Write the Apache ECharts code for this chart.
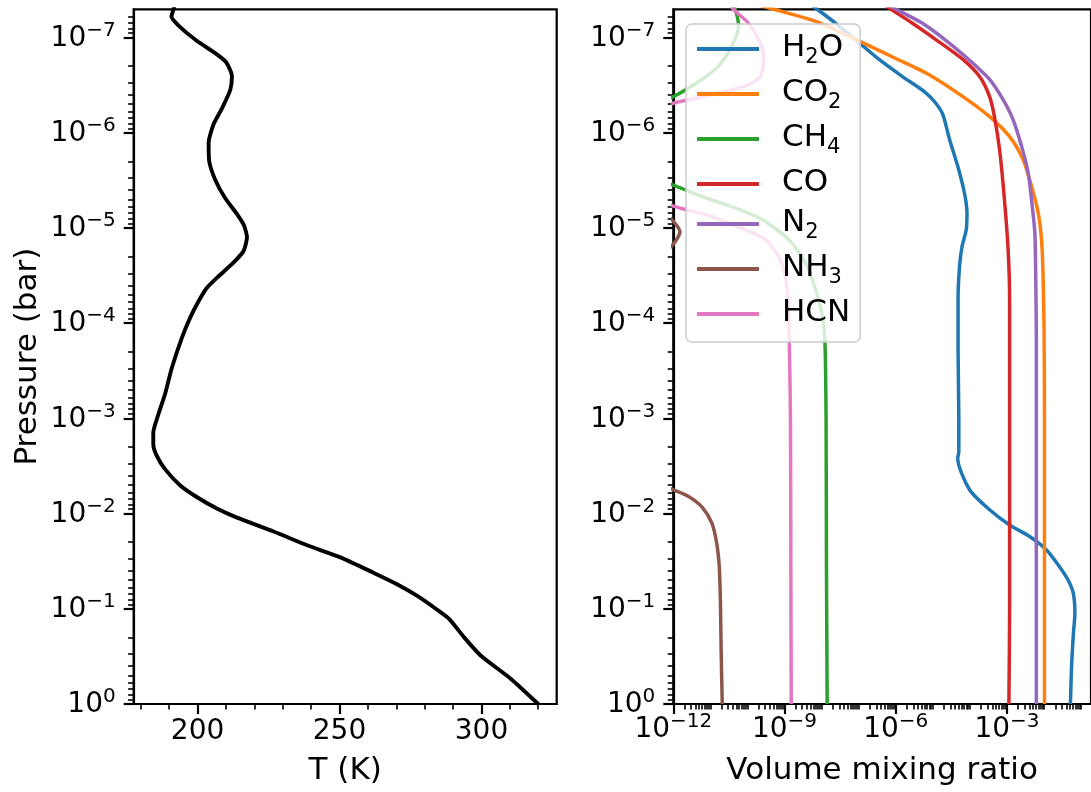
<!DOCTYPE html>
<html><head><meta charset="utf-8">
<script src="https://cdn.jsdelivr.net/npm/echarts@6/dist/echarts.min.js"></script>
<style>html,body{margin:0;padding:0;background:#fff}#c{width:1091px;height:792px}</style>
</head><body><div id="c"></div>
<script>
// ---------- data (log10 values) ----------
const tpTemperature = [192.0, 191.4, 190.8, 193.3, 199.7, 206.2, 210.1, 212.1, 211.5, 208.6, 205.6, 203.9, 204.1, 206.2, 209.7, 213.9, 216.4, 217.4, 216.2, 212.7, 207.4, 203.3, 200.3, 197.4, 194.4, 190.9, 188.6, 186.2, 184.4, 184.4, 185.6, 188.6, 193.9, 199.7, 206.8, 213.9, 226.8, 238.6, 250.3, 262.1, 270.4, 277.4, 284.4, 288.6, 293.9, 299.8, 310.3, 320.0];
const tpLogPressure = [-7.35, -7.285, -7.22, -7.126, -6.966, -6.836, -6.74, -6.594, -6.449, -6.256, -6.087, -5.894, -5.7, -5.507, -5.314, -5.145, -5.024, -4.903, -4.758, -4.638, -4.493, -4.372, -4.227, -4.058, -3.841, -3.527, -3.261, -3.043, -2.85, -2.729, -2.609, -2.464, -2.295, -2.174, -2.053, -1.957, -1.812, -1.667, -1.54, -1.377, -1.256, -1.135, -0.99, -0.894, -0.7, -0.507, -0.266, 0];

const speciesNames = ['H2O', 'CO2', 'CH4', 'CO', 'N2', 'NH3', 'HCN'];
const speciesColors = ['#1f77b4', '#ff7f0e', '#2ca02c', '#d62728', '#9467bd', '#8c564b', '#e377c2'];
// each entry: [log10 VMR, log10 pressure]
const h2o = [[-8.47,-7.4],[-8.12,-7.297],[-7.62,-7.15],[-7.08,-6.976],[-6.45,-6.77],[-5.82,-6.59],[-5.19,-6.42],[-4.92,-6.31],[-4.73,-6.19],[-4.55,-5.93],[-4.33,-5.65],[-4.15,-5.37],[-4.08,-5.16],[-4.10,-4.98],[-4.21,-4.81],[-4.28,-4.60],[-4.32,-4.25],[-4.32,-3.72],[-4.30,-3.0],[-4.30,-2.65],[-4.33,-2.58],[-4.01,-2.25],[-3.47,-2.04],[-2.93,-1.88],[-2.39,-1.76],[-1.94,-1.62],[-1.58,-1.44],[-1.35,-1.30],[-1.21,-1.16],[-1.17,-0.95],[-1.21,-0.74],[-1.26,-0.39],[-1.29,0]];
const co2 = [[-10.2,-7.4],[-9.29,-7.297],[-8.16,-7.17],[-7.08,-6.98],[-6.0,-6.78],[-5.10,-6.61],[-4.19,-6.38],[-3.47,-6.17],[-2.93,-5.96],[-2.57,-5.72],[-2.34,-5.44],[-2.16,-5.16],[-2.07,-4.88],[-2.03,-4.53],[-2.00,-3.90],[-1.99,-3.0],[-1.99,-1.5],[-1.99,0]];
const ch4 = [[-10.45,-7.4],[-10.33,-7.297],[-10.24,-7.13],[-10.42,-6.91],[-10.78,-6.70],[-11.23,-6.56],[-12.0,-6.38],[-12.8,-6.25],[-13.3,-5.9],[-12.8,-5.55],[-12.0,-5.45],[-11.23,-5.33],[-10.33,-5.21],[-9.61,-5.09],[-8.89,-4.88],[-8.43,-4.63],[-8.16,-4.35],[-7.98,-4.07],[-7.91,-3.79],[-7.88,-3.0],[-7.87,-1.5],[-7.85,0]];
const co = [[-6.53,-7.4],[-6.13,-7.297],[-5.55,-7.15],[-4.91,-6.976],[-4.19,-6.77],[-3.74,-6.59],[-3.47,-6.38],[-3.34,-6.17],[-3.20,-5.82],[-3.07,-5.30],[-2.97,-4.77],[-2.93,-4.25],[-2.93,-3.0],[-2.93,-1.0],[-2.95,0]];
const n2 = [[-6.48,-7.4],[-5.99,-7.297],[-5.28,-7.15],[-4.55,-6.94],[-3.92,-6.73],[-3.47,-6.56],[-3.11,-6.35],[-2.84,-6.14],[-2.61,-5.86],[-2.43,-5.58],[-2.34,-5.30],[-2.25,-4.95],[-2.23,-4.60],[-2.21,-3.90],[-2.21,-1.0],[-2.21,0]];
const nh3 = [[-15,-7.4],[-14,-6.0],[-12.6,-5.3],[-12.0,-5.07],[-11.82,-4.96],[-12.0,-4.83],[-12.6,-4.6],[-14,-3.8],[-14,-2.8],[-12.6,-2.35],[-12.0,-2.25],[-11.59,-2.18],[-11.23,-2.07],[-10.96,-1.90],[-10.83,-1.69],[-10.76,-1.44],[-10.73,-1.09],[-10.71,-0.57],[-10.68,0]];
const hcn = [[-10.55,-7.4],[-10.38,-7.297],[-9.97,-7.15],[-9.65,-6.94],[-9.56,-6.78],[-9.65,-6.59],[-10.06,-6.49],[-10.78,-6.42],[-11.41,-6.36],[-12.0,-6.31],[-12.8,-6.2],[-13.2,-5.8],[-12.8,-5.35],[-12.0,-5.23],[-10.96,-5.12],[-10.06,-4.98],[-9.52,-4.88],[-9.16,-4.70],[-8.98,-4.49],[-8.90,-4.18],[-8.87,-3.76],[-8.84,-3.0],[-8.83,-1.5],[-8.82,0]];
const speciesData = [h2o, co2, ch4, co, n2, nh3, hcn];

// ticks
const tempTicks = [200, 250, 300];
const tempMinorTicks = [180, 190, 210, 220, 230, 240, 260, 270, 280, 290, 310, 320];
const pressureTicks = [1e-7, 1e-6, 1e-5, 1e-4, 1e-3, 1e-2, 1e-1, 1];
const pressureTickExp = ['−7', '−6', '−5', '−4', '−3', '−2', '−1', '0'];
const vmrTicks = [1e-12, 1e-9, 1e-6, 1e-3];
const vmrTickExp = ['−12', '−9', '−6', '−3'];

function logMinor(lo, hi, skip) {
  const out = [];
  for (let n = lo; n <= hi; n++) for (let k = 1; k <= 9; k++) {
    const v = k * Math.pow(10, n);
    if (k === 1 && skip(n)) continue;
    out.push(v);
  }
  return out;
}
const pressureMinor = logMinor(-8, -1, () => true).filter(v => v > 5.1e-8);
const vmrMinor = logMinor(-12, -1, n => n % 3 === 0);

// ---------- chart ----------
const FONT = 'DejaVu Sans';
const TICK = 28, LABEL = 31;
const chart = echarts.init(document.getElementById('c'), null, {renderer: 'canvas'});
const supRich = {
  b: {fontFamily: FONT, fontSize: TICK, color: '#000', verticalAlign: 'bottom', lineHeight: 30},
  s: {fontFamily: FONT, fontSize: 20, color: '#000', verticalAlign: 'bottom', lineHeight: 20, padding: [0, 0, 12, 0]}
};
function expFmt(ticks, exps) {
  return v => {
    const i = ticks.findIndex(t => Math.abs(Math.log10(t) - Math.log10(v)) < 1e-6);
    return i < 0 ? '' : '{b|10}{s|' + exps[i] + '}';
  };
}
const majorTick = (vals) => ({show: true, customValues: vals, length: 10, lineStyle: {color: '#000', width: 2.2}});
const minorTick = (vals) => ({show: true, customValues: vals, length: 5.6, lineStyle: {color: '#000', width: 1.6}});
const axLine = {show: true, lineStyle: {color: '#000', width: 2.2}};

const grids = [
  {left: 133.7, top: 9.3, width: 423, height: 694.7, show: true, borderColor: '#000', borderWidth: 2.2, backgroundColor: 'transparent'},
  {left: 673.3, top: 9.3, width: 423, height: 694.7, show: true, borderColor: '#000', borderWidth: 2.2, backgroundColor: 'transparent'}
];

const yBase = (gi) => ({
  type: 'log', gridIndex: gi, min: 5.05e-8, max: 1.0001, inverse: true, position: 'left',
  splitLine: {show: false}, minorTick: {show: false}, minorSplitLine: {show: false}
});

const option = {
  animation: false,
  backgroundColor: '#fff',
  grid: grids,
  xAxis: [
    {type: 'value', gridIndex: 0, min: 177.5, max: 326.5, position: 'bottom',
     axisLine: axLine, axisTick: majorTick(tempTicks), splitLine: {show: false},
     axisLabel: {customValues: tempTicks, fontFamily: FONT, fontSize: TICK, color: '#000', margin: 14},
     name: 'T (K)', nameLocation: 'middle', nameGap: 51,
     nameTextStyle: {fontFamily: FONT, fontSize: LABEL, color: '#000'}},
    {type: 'value', gridIndex: 0, min: 177.5, max: 326.5, position: 'bottom',
     axisLine: {show: false}, axisTick: minorTick(tempMinorTicks), axisLabel: {show: false}, splitLine: {show: false}},
    {type: 'log', gridIndex: 1, min: 9.999e-13, max: 0.184, position: 'bottom',
     axisLine: axLine, axisTick: majorTick(vmrTicks), splitLine: {show: false}, minorTick: {show: false},
     axisLabel: {customValues: vmrTicks, formatter: expFmt(vmrTicks, vmrTickExp), rich: supRich, margin: 10},
     name: 'Volume mixing ratio', nameLocation: 'middle', nameGap: 51,
     nameTextStyle: {fontFamily: FONT, fontSize: LABEL, color: '#000'}},
    {type: 'log', gridIndex: 1, min: 9.999e-13, max: 0.184, position: 'bottom',
     axisLine: {show: false}, axisTick: minorTick(vmrMinor), axisLabel: {show: false}, splitLine: {show: false}, minorTick: {show: false}}
  ],
  yAxis: [
    Object.assign(yBase(0), {axisLine: axLine, axisTick: majorTick(pressureTicks),
      axisLabel: {customValues: pressureTicks, formatter: expFmt(pressureTicks, pressureTickExp), rich: supRich, margin: 18},
      name: 'Pressure (bar)', nameLocation: 'middle', nameGap: 90, nameRotate: 90,
      nameTextStyle: {fontFamily: FONT, fontSize: LABEL, color: '#000'}}),
    Object.assign(yBase(0), {axisLine: {show: false}, axisTick: minorTick(pressureMinor), axisLabel: {show: false}}),
    Object.assign(yBase(1), {axisLine: axLine, axisTick: majorTick(pressureTicks),
      axisLabel: {customValues: pressureTicks, formatter: expFmt(pressureTicks, pressureTickExp), rich: supRich, margin: 18}}),
    Object.assign(yBase(1), {axisLine: {show: false}, axisTick: minorTick(pressureMinor), axisLabel: {show: false}})
  ],
  legend: {
    data: speciesNames, orient: 'vertical', left: 686, top: 24,
    padding: [8, 10, 14, 11], itemWidth: 62, itemHeight: 4, itemGap: 9, icon: 'rect',
    backgroundColor: 'rgba(255,255,255,0.8)', borderColor: '#cccccc', borderWidth: 1.5, borderRadius: 6,
    formatter: n => n.split(/(\d+)/).filter(s => s).map(s => /\d/.test(s) ? '{s|' + s + '}' : '{b|' + s + '}').join(''),
    textStyle: {padding: [0, 0, 0, 18], rich: {
      b: {fontFamily: FONT, fontSize: LABEL, color: '#000', verticalAlign: 'top', lineHeight: 34},
      s: {fontFamily: FONT, fontSize: 21, color: '#000', verticalAlign: 'top', lineHeight: 21, padding: [15, 0, 0, 0]}
    }}
  },
  series: [
    {type: 'line', xAxisIndex: 0, yAxisIndex: 0, symbol: 'none', smooth: 0.2, clip: true,
     data: tpTemperature.map((t, i) => [t, Math.pow(10, tpLogPressure[i])]),
     lineStyle: {color: '#000', width: 3.9}, itemStyle: {color: '#000'}, z: 3}
  ].concat(speciesNames.map((name, i) => ({
    name, type: 'line', xAxisIndex: 2, yAxisIndex: 2, symbol: 'none', smooth: 0.25, clip: true,
    color: speciesColors[i],
    data: speciesData[i].map(p => [Math.pow(10, p[0]), Math.pow(10, p[1])]),
    lineStyle: {color: speciesColors[i], width: 3.5}, itemStyle: {color: speciesColors[i]}
  })))
};
chart.setOption(option);
</script></body></html>
